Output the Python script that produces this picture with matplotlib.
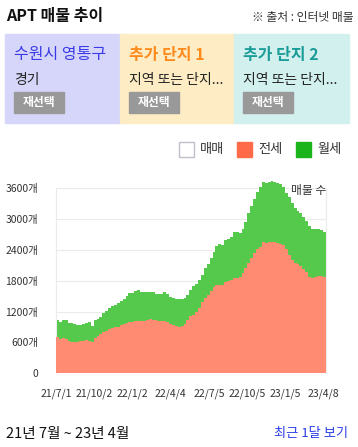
import matplotlib.pyplot as plt
import matplotlib.patches as mpatches
import pandas as pd

plt.rcParams['font.family'] = ['Noto Sans CJK KR', 'DejaVu Sans']

# weekly listing counts (from 2021-07-01)
jeonse = [700, 668, 687, 662, 630, 612, 600, 610, 625, 636, 641, 630, 610, 690, 724, 770,
          795, 830, 860, 888, 892, 907, 937, 950, 988, 1000, 1005, 1010, 1018, 1020, 1024, 1035,
          1057, 1045, 1030, 1012, 1012, 1010, 1000, 950, 940, 922, 910, 915, 960, 1040, 1110, 1140,
          1200, 1280, 1380, 1465, 1530, 1605, 1680, 1720, 1720, 1710, 1785, 1796, 1815, 1860, 1855, 1870,
          1960, 2050, 2150, 2238, 2350, 2410, 2450, 2555, 2545, 2550, 2560, 2555, 2538, 2525, 2495, 2410,
          2305, 2210, 2150, 2120, 2090, 2035, 1977, 1880, 1850, 1868, 1888, 1890, 1870, 1802]
wolse = [337, 337, 350, 375, 355, 363, 350, 325, 320, 326, 344, 365, 318, 340, 328, 330,
         380, 390, 402, 412, 438, 463, 468, 490, 512, 557, 562, 590, 602, 565, 558, 545,
         518, 530, 519, 537, 537, 565, 540, 540, 530, 523, 530, 531, 512, 490, 505, 550,
         545, 540, 535, 585, 605, 635, 690, 750, 805, 790, 800, 814, 840, 890, 901, 860,
         850, 895, 960, 1022, 1050, 1110, 1170, 1174, 1167, 1175, 1180, 1175, 1167, 1165, 1135, 1105,
         1120, 1110, 1075, 1045, 1030, 1005, 993, 985, 950, 932, 914, 900, 870, 870]
dates = pd.date_range('2021-07-01', periods=len(jeonse), freq='7D')

tick_dates = pd.to_datetime(['2021-07-01', '2021-10-02', '2022-01-02', '2022-04-04',
                             '2022-07-05', '2022-10-05', '2023-01-05', '2023-04-08'])
tick_labels = ['21/7/1', '21/10/2', '22/1/2', '22/4/4', '22/7/5', '22/10/5', '23/1/5', '23/4/8']
y_ticks = [0, 600, 1200, 1800, 2400, 3000, 3600]

panels = [('수원시 영통구', '경기', '#d6d6fa', '#3a3ae6'),
          ('추가 단지 1', '지역 또는 단지...', '#feecc4', '#ff8a1c'),
          ('추가 단지 2', '지역 또는 단지...', '#d2f0ee', '#1a9c98')]

W, H = 358, 447
fig = plt.figure(figsize=(W / 100, H / 100), dpi=100)

def fx(px):
    return px / W

def fy(py):
    return 1 - py / H

# header
fig.text(fx(6), fy(16), 'APT 매물 추이', fontsize=11.5, fontweight='bold', va='center', color='#111')
fig.text(fx(354), fy(18), '※ 출처 : 인터넷 매물', fontsize=8.5, ha='right', va='center', color='#333')

# selection panels
for i, (name, sub, bg, fg) in enumerate(panels):
    x0 = 5 + i * 114.7
    fig.patches.append(mpatches.Rectangle((fx(x0), fy(123)), fx(114.7), 89 / H,
                                          transform=fig.transFigure, color=bg, zorder=0))
    fig.text(fx(x0 + 9), fy(55), name, fontsize=11.5, color=fg, va='center',
             fontweight='bold' if i > 0 else 'normal')
    fig.text(fx(x0 + 9), fy(80), sub, fontsize=10, color='#222', va='center')
    fig.patches.append(mpatches.Rectangle((fx(x0 + 9), fy(113)), fx(50), 21 / H,
                                          transform=fig.transFigure, color='#999999', zorder=1))
    fig.text(fx(x0 + 34), fy(102.5), '재선택', fontsize=8.5, color='white', fontweight='bold',
             ha='center', va='center', zorder=2)

# legend
leg = [('매매', 'white', '#c0c0cc', 179), ('전세', '#ff6a48', '#ff6a48', 237), ('월세', '#1cb41c', '#1cb41c', 296)]
for lab, fc, ec, x0 in leg:
    fig.patches.append(mpatches.Rectangle((fx(x0), fy(157)), fx(15), 15 / H, transform=fig.transFigure,
                                          facecolor=fc, edgecolor=ec, linewidth=1))
    fig.text(fx(x0 + 21), fy(150), lab, fontsize=9.5, color='#333', va='center')

# chart
ax = fig.add_axes([fx(56), fy(373.3), fx(270), (373.3 - 188.3) / H])
total = [j + w for j, w in zip(jeonse, wolse)]
ax.fill_between(dates, 0, total, step='post', color='#55c94c', linewidth=0, clip_on=False, zorder=2)
ax.fill_between(dates, 0, jeonse, step='post', color='#ff8b73', linewidth=0, clip_on=False, zorder=3)

ax.set_xlim(pd.Timestamp('2021-07-01'), pd.Timestamp('2023-04-14'))
ax.set_ylim(0, 3600)
ax.set_yticks(y_ticks)
ax.set_yticklabels(['0'] + [f'{v}개' for v in y_ticks[1:]])
ax.set_xticks(tick_dates)
ax.set_xticklabels(tick_labels)
ax.tick_params(length=0, labelsize=7.5, labelcolor='#333')
ax.tick_params(axis='y', pad=13)
ax.tick_params(axis='x', pad=11)
ax.grid(axis='y', color='#ebebeb', linewidth=0.8, zorder=0)
ax.set_axisbelow(True)
for s in ['left', 'right']:
    ax.spines[s].set_color('#ebebeb')
    ax.spines[s].set_linewidth(0.8)
ax.spines['top'].set_visible(False)
ax.spines['bottom'].set_visible(False)
ax.text(1.0, 0.99, '매물 수', transform=ax.transAxes, ha='right', va='center', fontsize=8.5,
        color='#333', zorder=5)

# footer
fig.text(fx(6), fy(434), '21년 7월 ~ 23년 4월', fontsize=10.5, color='#111', va='center')
fig.text(fx(348), fy(434), '최근 1달 보기', fontsize=9.5, color='#2a3ee6', ha='right', va='center')

fig.savefig('out.png', dpi=100)
